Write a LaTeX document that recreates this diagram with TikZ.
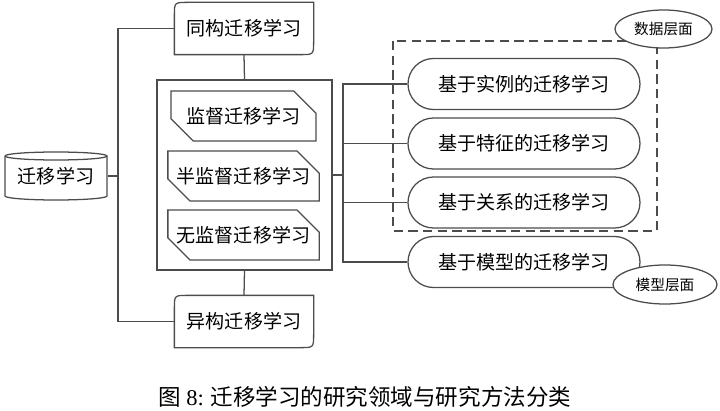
\documentclass[tikz,border=0pt]{standalone}
\usepackage{fontspec}
\setmainfont{Noto Sans CJK SC}
\newfontfamily\latin{Liberation Serif}
\usetikzlibrary{shapes.misc, shapes.geometric}
\def\px{0.75pt}
\tikzstyle{every node}=[inner sep=0pt, text=black, font=\fontsize{14.3}{16}\selectfont]
\tikzstyle{pill}=[rounded rectangle, draw, minimum width=232*\px, minimum height=51*\px]
\tikzstyle{cutbox}=[chamfered rectangle, chamfered rectangle corners={north east, south west}, chamfered rectangle sep=10pt, draw, minimum width=145*\px, minimum height=50*\px]
\tikzstyle{layertag}=[ellipse, draw=black!70, fill=white, minimum width=97*\px, minimum height=38*\px, font=\fontsize{11}{12}\selectfont]
\tikzstyle{sidebox}=[minimum width=138*\px, minimum height=51*\px]
\newcommand{\sideround}[1]{%
    \draw ([xshift=10pt]#1.north west) -- (#1.north east) -- ([yshift=10pt]#1.south east)
        .. controls (#1.south east) .. ([xshift=-10pt]#1.south east) -- (#1.south west)
        -- ([yshift=-10pt]#1.north west) .. controls (#1.north west) .. ([xshift=10pt]#1.north west) -- cycle;}

\begin{document}
\begin{tikzpicture}[x=\px, y=-\px, line width=0.95pt, draw=black!70]
    \useasboundingbox (0,0) rectangle (720,410);
% Source cylinder
    \node[minimum width=102*\px, minimum height=48*\px] (src) at (56,176) {迁移学习};
    \draw (5,156) -- (5,196) arc[start angle=180, end angle=0, x radius=51, y radius=4] -- (107,156);
    \draw (5,156) arc[start angle=180, end angle=-180, x radius=51, y radius=4];
% Homogeneous / heterogeneous
    \node[sidebox] (homo) at (244,28.5) {同构迁移学习};
    \node[sidebox] (hetero) at (244,321.5) {异构迁移学习};
    \sideround{homo}
    \sideround{hetero}
% Learning settings
    \node[draw, minimum width=175*\px, minimum height=190*\px] (grp) at (244.5,175) {};
    \node[cutbox] (sup) at (243.5,116) {监督迁移学习};
    \node[cutbox] (semi) at (243.5,176) {半监督迁移学习};
    \node[cutbox] (unsup) at (243.5,235) {无监督迁移学习};
% Methods
    \node[pill] (inst) at (524,84) {基于实例的迁移学习};
    \node[pill] (feat) at (524,143.5) {基于特征的迁移学习};
    \node[pill] (rel) at (524,202.5) {基于关系的迁移学习};
    \node[pill] (model) at (524,262) {基于模型的迁移学习};
    \draw[dashed, dash pattern=on 7pt off 4pt] (393,41) rectangle (657,231);
    \node[layertag] (datatag) at (663.5,29) {数据层面};
    \node[layertag, minimum width=104*\px, minimum height=39*\px] (modeltag) at (665,284.5) {模型层面};
% Connectors
    \coordinate (trunk) at (118,176);
    \coordinate (branch) at (343,175);
    \draw (src.east) -- (trunk);
    \draw (homo.west) -| (trunk) |- (hetero.west);
    \draw (homo.south) -- (grp.north);
    \draw (grp.south) -- (hetero.north);
    \draw (grp.east) -- (branch);
    \draw (inst.west) -| (branch) |- (model.west);
    \draw (branch) |- (feat.west);
    \draw (branch) |- (rel.west);
% Caption
    \node[font=\fontsize{16.9}{18}\selectfont] (cap) at (365,397) {图 {\latin 8:} 迁移学习的研究领域与研究方法分类};
\end{tikzpicture}
\end{document}
